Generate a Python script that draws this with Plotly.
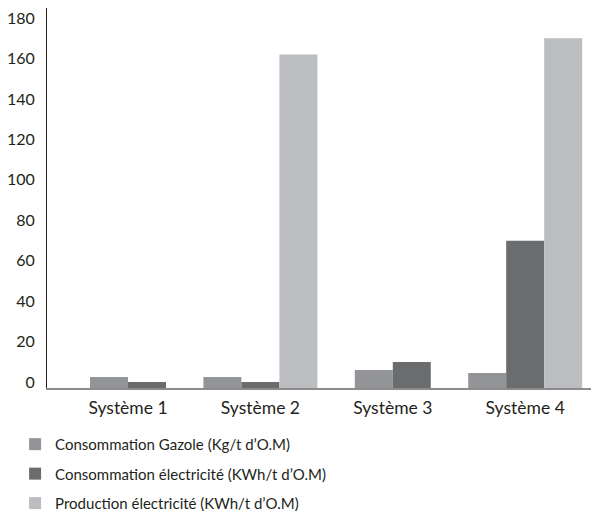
import plotly.graph_objects as go

categories = ["Système 1", "Système 2", "Système 3", "Système 4"]
gazole = [5.4, 5.4, 8.9, 7.4]
elec_conso = [3, 3, 12.9, 72.9]
elec_prod = [None, 165, None, 173]
series_names = [
    "Consommation Gazole (Kg/t d’O.M)",
    "Consommation électricité (KWh/t d’O.M)",
    "Production électricité (KWh/t d’O.M)",
]
series_values = [gazole, elec_conso, elec_prod]
colors = ["#939497", "#6b6c6e", "#bcbdc0"]
y_ticks = list(range(0, 181, 20))

bar_w = 0.287
# compute per-bar offsets so each group's visible bars are centered on its category
offsets = [[0.0] * len(categories) for _ in series_values]
for ci in range(len(categories)):
    present = [si for si, s in enumerate(series_values) if s[ci] is not None]
    n = len(present)
    for k, si in enumerate(present):
        offsets[si][ci] = (k - n / 2) * bar_w

font_family = "Lato, 'Open Sans', sans-serif"
text_color = "#231f20"

fig = go.Figure()
for si, (name, vals, col) in enumerate(zip(series_names, series_values, colors)):
    fig.add_trace(go.Bar(
        x=categories, y=vals, name=name,
        marker=dict(color=col, line=dict(width=0)),
        width=bar_w, offset=offsets[si],
        legendgroup=f"g{si}",
    ))

fig.update_layout(
    width=591, height=507,
    margin=dict(l=39, r=1, t=0, b=127, autoexpand=False),
    paper_bgcolor="white", plot_bgcolor="white",
    barmode="overlay",
    font=dict(family=font_family, color=text_color, size=15),
    showlegend=True,
    legend=dict(
        orientation="v", x=0.012, xref="container", y=-0.105, yanchor="top",
        xanchor="left",
        font=dict(size=15, color=text_color),
        tracegroupgap=7, itemwidth=30,
        bgcolor="rgba(0,0,0,0)",
    ),
)
fig.update_xaxes(
    type="category", range=[-0.612, 3.55], automargin=False,
    showline=True, linecolor="#8c8c8c", linewidth=2,
    ticks="", showgrid=False, zeroline=False,
    tickfont=dict(size=17.5), ticklabelstandoff=3,
)
fig.update_yaxes(
    range=[0, 188], tickvals=y_ticks, automargin=False,
    showline=True, linecolor="#231f20", linewidth=1,
    ticks="", showgrid=False, zeroline=False,
    tickfont=dict(size=16), ticklabeloverflow="allow",
    ticklabelshift=-6, ticklabelstandoff=8,
)

fig.write_html("out.html")
